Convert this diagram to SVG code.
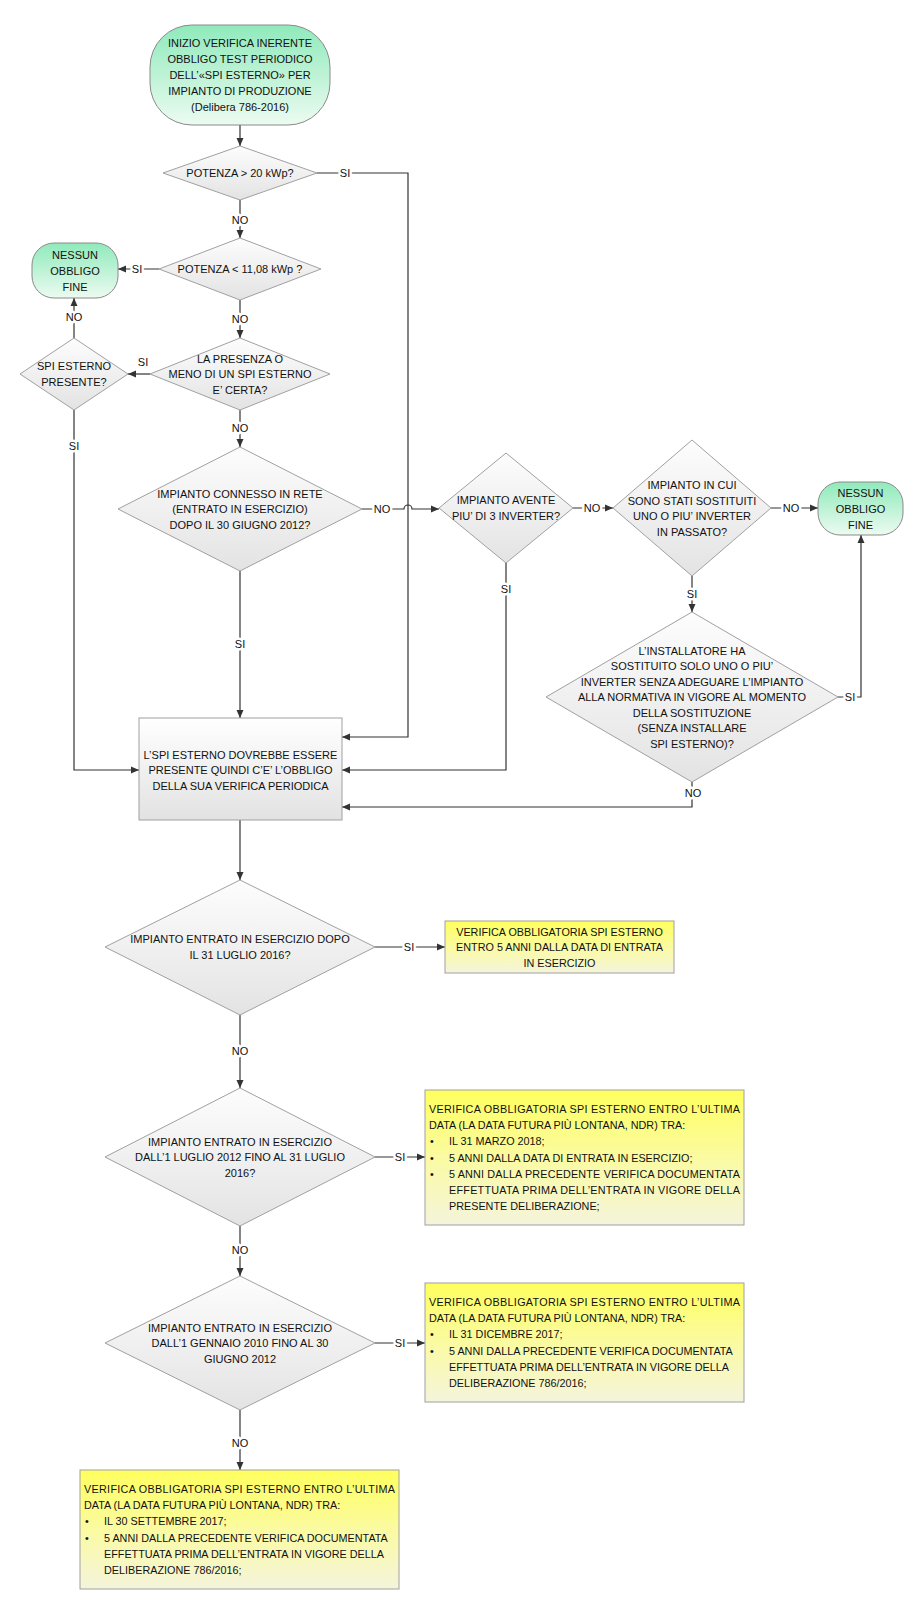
<svg xmlns="http://www.w3.org/2000/svg" width="922" height="1610" viewBox="0 0 922 1610">
<defs>
<linearGradient id="gGreen" x1="0" y1="0" x2="0" y2="1"><stop offset="0" stop-color="#8feabb"/><stop offset="1" stop-color="#ecfbf1"/></linearGradient>
<linearGradient id="gGray" x1="0" y1="0" x2="0" y2="1"><stop offset="0" stop-color="#fdfdfd"/><stop offset="1" stop-color="#e3e3e3"/></linearGradient>
<linearGradient id="gBox" x1="0" y1="0" x2="0" y2="1"><stop offset="0" stop-color="#ffffff"/><stop offset="1" stop-color="#e2e2e2"/></linearGradient>
<linearGradient id="gYel" x1="0" y1="0" x2="0" y2="1"><stop offset="0" stop-color="#ffff5e"/><stop offset="0.55" stop-color="#fafaa8"/><stop offset="1" stop-color="#f4f4dc"/></linearGradient>
<marker id="ar" markerUnits="userSpaceOnUse" markerWidth="9" markerHeight="8" refX="8" refY="4" orient="auto"><path d="M0,0.5 L8,4 L0,7.5 z" fill="#333"/></marker>
</defs>
<style>
text{font-family:"Liberation Sans",Arial,sans-serif;font-size:11px;fill:#111;dominant-baseline:central}
.yt text{font-size:10.8px}
.c{text-anchor:middle}
.term{fill:url(#gGreen);stroke:#8a8a8a;stroke-width:1}
.dia{fill:url(#gGray);stroke:#a0a0a0;stroke-width:1}
.box{fill:url(#gBox);stroke:#a0a0a0;stroke-width:1}
.yel{fill:url(#gYel);stroke:#a0a0a0;stroke-width:1}
.cn path{fill:none;stroke:#333;stroke-width:1.2}
.cn .a{marker-end:url(#ar)}
.lbl{text-anchor:middle;stroke:#fff;stroke-width:5;paint-order:stroke;stroke-linejoin:round}
</style>

<g id="connectors" class="cn">
<path class="a" d="M240,125 V146"/>
<path class="a" d="M317,173 H408 V737 H342"/>
<path class="a" d="M240,200 V238"/>
<path class="a" d="M159,269 H118"/>
<path class="a" d="M240,300 V338"/>
<path class="a" d="M150,374 H128"/>
<path class="a" d="M74,338 V298"/>
<path class="a" d="M74,410 V770 H139"/>
<path class="a" d="M240,410 V447"/>
<path class="a" d="M362,509 H404 A4,4 0 0 1 412,509 H439"/>
<path class="a" d="M240,571 V718"/>
<path class="a" d="M573,508 H613"/>
<path class="a" d="M506,563 V770 H342"/>
<path class="a" d="M771,508 H818"/>
<path class="a" d="M692,576 V612"/>
<path class="a" d="M838,697 H861 V535"/>
<path class="a" d="M692,782 V807 H342"/>
<path class="a" d="M240,820 V880"/>
<path class="a" d="M375,947 H445"/>
<path class="a" d="M240,1015 V1088"/>
<path class="a" d="M375,1157 H425"/>
<path class="a" d="M240,1226 V1276"/>
<path class="a" d="M375,1343 H425"/>
<path class="a" d="M240,1410 V1470"/>
<text class="lbl" x="345" y="173">SI</text>
<text class="lbl" x="240" y="220">NO</text>
<text class="lbl" x="137" y="269">SI</text>
<text class="lbl" x="240" y="319">NO</text>
<text class="lbl" x="143" y="362">SI</text>
<text class="lbl" x="74" y="317">NO</text>
<text class="lbl" x="74" y="446">SI</text>
<text class="lbl" x="240" y="428">NO</text>
<text class="lbl" x="382" y="509">NO</text>
<text class="lbl" x="240" y="644">SI</text>
<text class="lbl" x="592" y="508">NO</text>
<text class="lbl" x="506" y="589">SI</text>
<text class="lbl" x="791" y="508">NO</text>
<text class="lbl" x="692" y="594">SI</text>
<text class="lbl" x="850" y="697">SI</text>
<text class="lbl" x="693" y="793">NO</text>
<text class="lbl" x="409" y="947">SI</text>
<text class="lbl" x="240" y="1051">NO</text>
<text class="lbl" x="400" y="1157">SI</text>
<text class="lbl" x="240" y="1250">NO</text>
<text class="lbl" x="400" y="1343">SI</text>
<text class="lbl" x="240" y="1443">NO</text>
</g>

<g id="start">
<rect class="term" x="150" y="25" width="180" height="100" rx="42" ry="42"/>
<text class="c" x="240" y="43">INIZIO VERIFICA INERENTE</text>
<text class="c" x="240" y="59">OBBLIGO TEST PERIODICO</text>
<text class="c" x="240" y="75">DELL’«SPI ESTERNO» PER</text>
<text class="c" x="240" y="91">IMPIANTO DI PRODUZIONE</text>
<text class="c" x="240" y="107">(Delibera 786-2016)</text>
</g>

<g id="d1">
<polygon class="dia" points="240,146 317,173 240,200 163,173"/>
<text class="c" x="240" y="173">POTENZA &gt; 20 kWp?</text>
</g>

<g id="d2">
<polygon class="dia" points="240,238 321,269 240,300 159,269"/>
<text class="c" x="240" y="269">POTENZA &lt; 11,08 kWp ?</text>
</g>

<g id="end1">
<rect class="term" x="32" y="243" width="86" height="55" rx="22" ry="22"/>
<text class="c" x="75" y="254.5">NESSUN</text>
<text class="c" x="75" y="270.5">OBBLIGO</text>
<text class="c" x="75" y="286.5">FINE</text>
</g>

<g id="d3">
<polygon class="dia" points="240,338 330,374 240,410 150,374"/>
<text class="c" x="240" y="358.5">LA PRESENZA O</text>
<text class="c" x="240" y="374">MENO DI UN SPI ESTERNO</text>
<text class="c" x="240" y="389.5">E’ CERTA?</text>
</g>

<g id="d4">
<polygon class="dia" points="74,338 128,374 74,410 20,374"/>
<text class="c" x="74" y="366.3">SPI ESTERNO</text>
<text class="c" x="74" y="381.8">PRESENTE?</text>
</g>

<g id="d5">
<polygon class="dia" points="240,447 362,509 240,571 118,509"/>
<text class="c" x="240" y="493.5">IMPIANTO CONNESSO IN RETE</text>
<text class="c" x="240" y="509">(ENTRATO IN ESERCIZIO)</text>
<text class="c" x="240" y="524.5">DOPO IL 30 GIUGNO 2012?</text>
</g>

<g id="d6">
<polygon class="dia" points="506,453 573,508 506,563 439,508"/>
<text class="c" x="506" y="500.3">IMPIANTO AVENTE</text>
<text class="c" x="506" y="515.8">PIU’ DI 3 INVERTER?</text>
</g>

<g id="d7">
<polygon class="dia" points="692,440 771,508 692,576 613,508"/>
<text class="c" x="692" y="485">IMPIANTO IN CUI</text>
<text class="c" x="692" y="500.5">SONO STATI SOSTITUITI</text>
<text class="c" x="692" y="516">UNO O PIU’ INVERTER</text>
<text class="c" x="692" y="531.5">IN PASSATO?</text>
</g>

<g id="end2">
<rect class="term" x="818" y="482" width="85" height="53" rx="22" ry="22"/>
<text class="c" x="860.5" y="492.5">NESSUN</text>
<text class="c" x="860.5" y="508.5">OBBLIGO</text>
<text class="c" x="860.5" y="524.5">FINE</text>
</g>

<g id="d8">
<polygon class="dia" points="692,612 838,697 692,782 546,697"/>
<text class="c" x="692" y="650.5">L’INSTALLATORE HA</text>
<text class="c" x="692" y="666">SOSTITUITO SOLO UNO O PIU’</text>
<text class="c" x="692" y="681.5">INVERTER SENZA ADEGUARE L’IMPIANTO</text>
<text class="c" x="692" y="697">ALLA NORMATIVA IN VIGORE AL MOMENTO</text>
<text class="c" x="692" y="712.5">DELLA SOSTITUZIONE</text>
<text class="c" x="692" y="728">(SENZA INSTALLARE</text>
<text class="c" x="692" y="743.5">SPI ESTERNO)?</text>
</g>

<g id="process">
<rect class="box" x="139" y="718" width="203" height="102"/>
<text class="c" x="240.5" y="754.5">L’SPI ESTERNO DOVREBBE ESSERE</text>
<text class="c" x="240.5" y="770">PRESENTE QUINDI C’E’ L’OBBLIGO</text>
<text class="c" x="240.5" y="785.5">DELLA SUA VERIFICA PERIODICA</text>
</g>

<g id="d9">
<polygon class="dia" points="240,880 375,947 240,1015 105,947"/>
<text class="c" x="240" y="939.3">IMPIANTO ENTRATO IN ESERCIZIO DOPO</text>
<text class="c" x="240" y="954.8">IL 31 LUGLIO 2016?</text>
</g>

<g id="y1" class="yt">
<rect class="yel" x="445" y="921" width="229" height="52"/>
<text class="c" x="559.5" y="931.5">VERIFICA OBBLIGATORIA SPI ESTERNO</text>
<text class="c" x="559.5" y="947">ENTRO 5 ANNI DALLA DATA DI ENTRATA</text>
<text class="c" x="559.5" y="962.5">IN ESERCIZIO</text>
</g>

<g id="d10">
<polygon class="dia" points="240,1088 375,1157 240,1226 105,1157"/>
<text class="c" x="240" y="1141.5">IMPIANTO ENTRATO IN ESERCIZIO</text>
<text class="c" x="240" y="1157">DALL’1 LUGLIO 2012 FINO AL 31 LUGLIO</text>
<text class="c" x="240" y="1172.5">2016?</text>
</g>

<g id="y2" class="yt">
<rect class="yel" x="425" y="1090" width="319" height="135"/>
<text x="429" y="1108.6" textLength="311" lengthAdjust="spacing">VERIFICA OBBLIGATORIA SPI ESTERNO ENTRO L’ULTIMA</text>
<text x="429" y="1124.9">DATA (LA DATA FUTURA PIÙ LONTANA, NDR) TRA:</text>
<text x="430" y="1141.2">•</text><text x="449" y="1141.2">IL 31 MARZO 2018;</text>
<text x="430" y="1157.5">•</text><text x="449" y="1157.5">5 ANNI DALLA DATA DI ENTRATA IN ESERCIZIO;</text>
<text x="430" y="1173.8">•</text><text x="449" y="1173.8" textLength="291" lengthAdjust="spacing">5 ANNI DALLA PRECEDENTE VERIFICA DOCUMENTATA</text>
<text x="449" y="1190.1" textLength="291" lengthAdjust="spacing">EFFETTUATA PRIMA DELL’ENTRATA IN VIGORE DELLA</text>
<text x="449" y="1206.4">PRESENTE DELIBERAZIONE;</text>
</g>

<g id="d11">
<polygon class="dia" points="240,1276 375,1343 240,1410 105,1343"/>
<text class="c" x="240" y="1327.5">IMPIANTO ENTRATO IN ESERCIZIO</text>
<text class="c" x="240" y="1343">DALL’1 GENNAIO 2010 FINO AL 30</text>
<text class="c" x="240" y="1358.5">GIUGNO 2012</text>
</g>

<g id="y3" class="yt">
<rect class="yel" x="425" y="1283" width="319" height="119"/>
<text x="429" y="1301.7" textLength="311" lengthAdjust="spacing">VERIFICA OBBLIGATORIA SPI ESTERNO ENTRO L’ULTIMA</text>
<text x="429" y="1318">DATA (LA DATA FUTURA PIÙ LONTANA, NDR) TRA:</text>
<text x="430" y="1334.3">•</text><text x="449" y="1334.3">IL 31 DICEMBRE 2017;</text>
<text x="430" y="1350.6">•</text><text x="449" y="1350.6">5 ANNI DALLA PRECEDENTE VERIFICA DOCUMENTATA</text>
<text x="449" y="1366.9">EFFETTUATA PRIMA DELL’ENTRATA IN VIGORE DELLA</text>
<text x="449" y="1383.2">DELIBERAZIONE 786/2016;</text>
</g>

<g id="y4" class="yt">
<rect class="yel" x="80" y="1470" width="319" height="119"/>
<text x="84" y="1488.7" textLength="311" lengthAdjust="spacing">VERIFICA OBBLIGATORIA SPI ESTERNO ENTRO L’ULTIMA</text>
<text x="84" y="1505">DATA (LA DATA FUTURA PIÙ LONTANA, NDR) TRA:</text>
<text x="85" y="1521.3">•</text><text x="104" y="1521.3">IL 30 SETTEMBRE 2017;</text>
<text x="85" y="1537.6">•</text><text x="104" y="1537.6">5 ANNI DALLA PRECEDENTE VERIFICA DOCUMENTATA</text>
<text x="104" y="1553.9">EFFETTUATA PRIMA DELL’ENTRATA IN VIGORE DELLA</text>
<text x="104" y="1570.2">DELIBERAZIONE 786/2016;</text>
</g>
</svg>
